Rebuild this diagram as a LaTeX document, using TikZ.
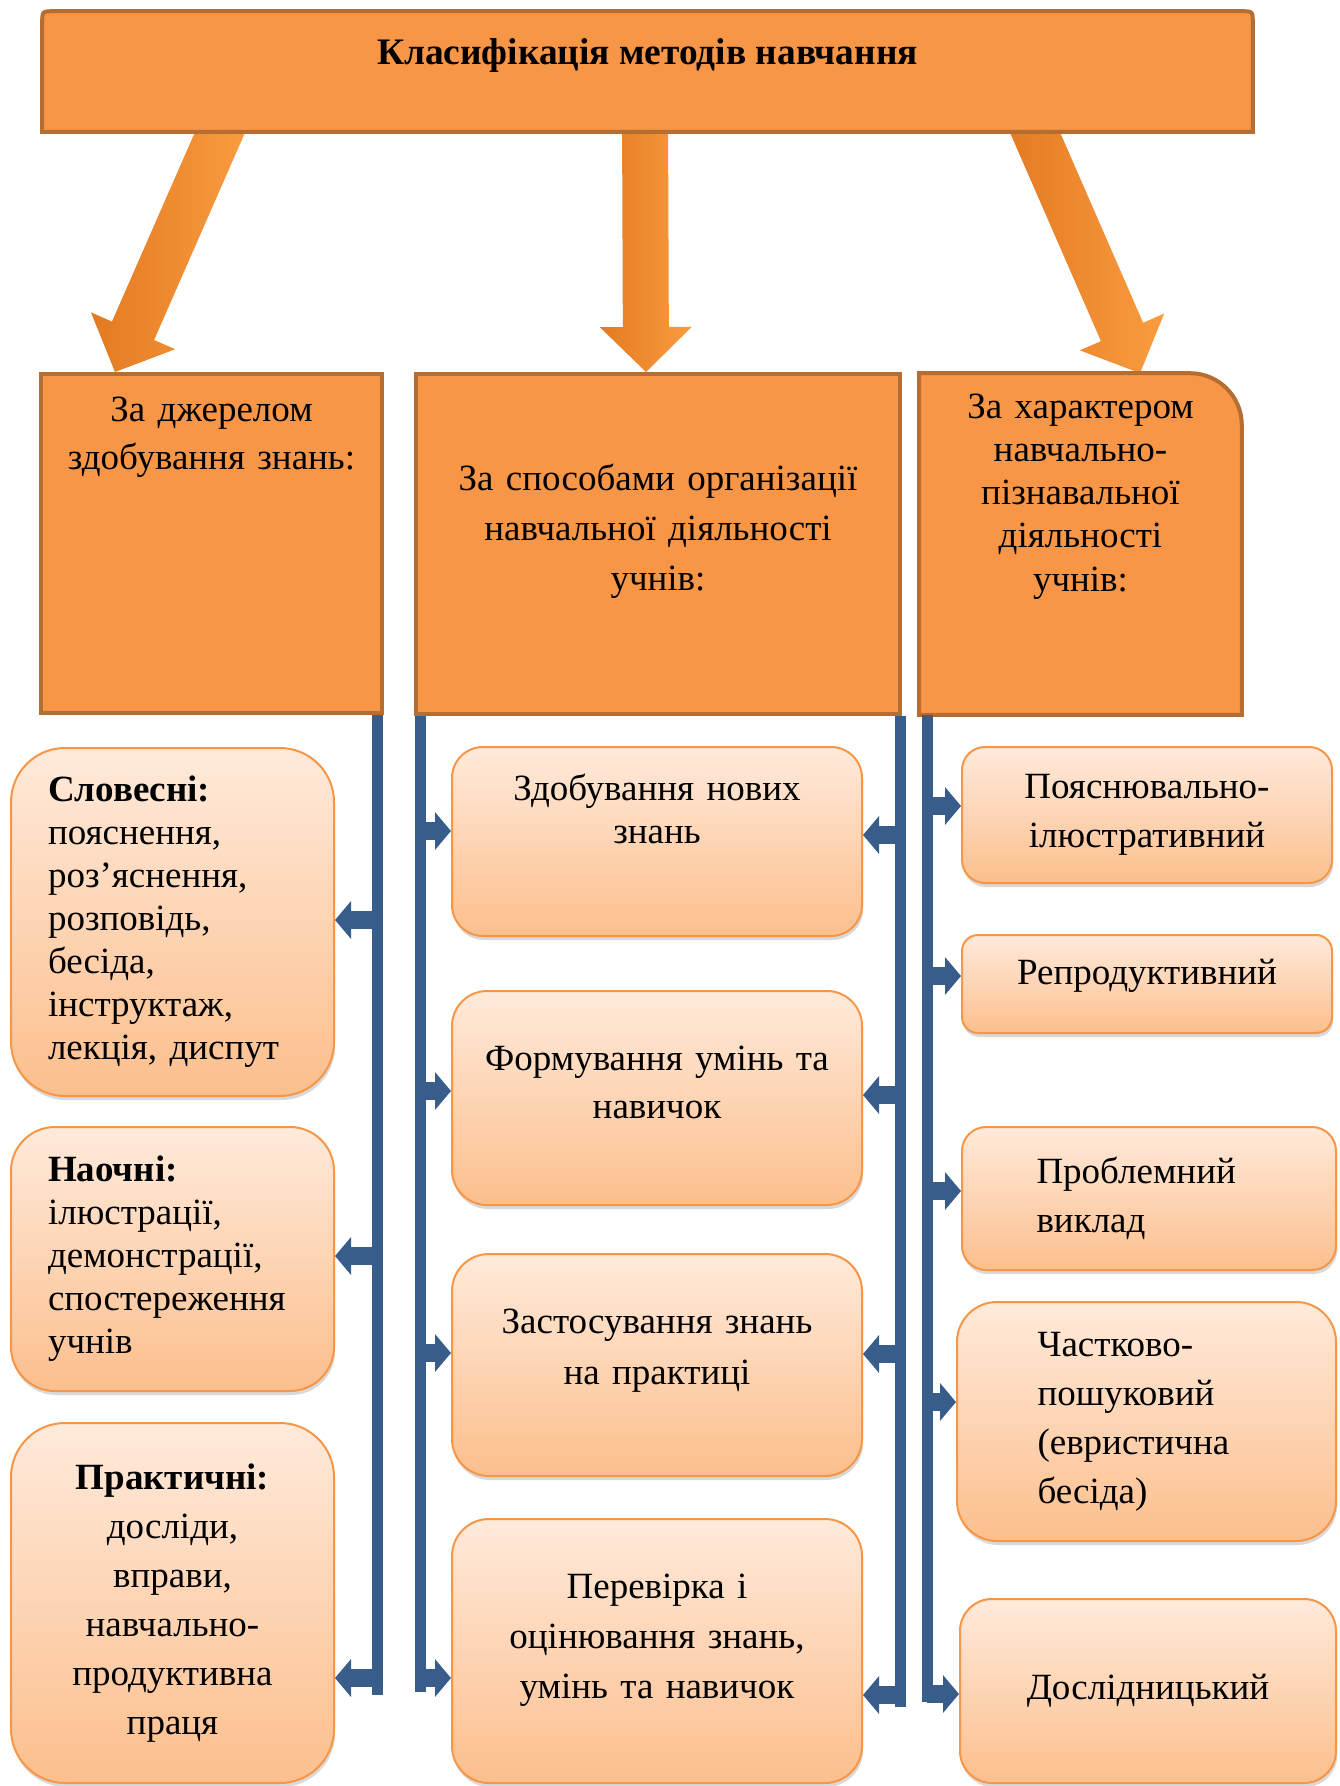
\documentclass[tikz,border=0pt]{standalone}
\usepackage{fontspec}
\setmainfont{Liberation Serif}
\usetikzlibrary{arrows.meta, calc, shadows, backgrounds}

\definecolor{headfill}{HTML}{F79646}
\definecolor{headline}{HTML}{B66D31}
\definecolor{boxtop}{HTML}{FFEADB}
\definecolor{boxbottom}{HTML}{FCBF8D}
\definecolor{boxline}{HTML}{F79646}
\definecolor{arrowdark}{HTML}{E37A22}
\definecolor{arrowlight}{HTML}{FA9C3F}
\definecolor{barblue}{HTML}{385D8A}

% block arrow: #1 name, #2 start, #3 tip
\newcommand{\bigarrow}[3]{%
  \coordinate (#1s) at (#2);
  \coordinate (#1t) at (#3);
  \coordinate (#1h) at ($(#1t)!22.5pt!(#1s)$);
  \shade[bigarrowfill]
    ($(#1s)!11.5pt!90:(#1t)$) -- ($(#1h)!11.5pt!90:(#1t)$) -- ($(#1h)!23pt!90:(#1t)$)
    -- (#1t) -- ($(#1h)!23pt!-90:(#1t)$) -- ($(#1h)!11.5pt!-90:(#1t)$)
    -- ($(#1s)!11.5pt!-90:(#1t)$) -- cycle;
}

\tikzset{
  every picture/.style={line width=0.8pt},
  every node/.style={font=\fontsize{18.5}{24.5}\selectfont, inner sep=0pt},
  tight/.style={font=\fontsize{18.5}{21.5}\selectfont},
  headshape/.style={draw=headline, fill=headfill, line width=2pt},
  headbox/.style={headshape, align=center},
  methodbox/.style={draw=boxline, line width=1pt, top color=boxtop, bottom color=boxbottom,
    rounded corners=#1, drop shadow={shadow xshift=0.6pt, shadow yshift=-2pt, opacity=0.3}},
  methodbox/.default=15pt,
  trunk/.style={draw=barblue, line width=5.5pt},
  branch/.style={draw=barblue, line width=9pt, -{Triangle[width=18.5pt, length=8pt]}},
  bigarrowfill/.style={left color=arrowdark, right color=arrowlight}
}

\begin{document}
\begin{tikzpicture}[x=0.5pt, y=-0.5pt]
  \useasboundingbox (0,0) rectangle (1339,1786);

  % headings
  \node[font=\fontsize{18.7}{22}\selectfont\bfseries, minimum width=604.5pt,
        text height=26.5pt, text depth=33pt] (title) at (647.5,71.5) {Класифікація методів навчання};
  \node[headbox, font=\fontsize{18.5}{24}\selectfont, text width=150pt, minimum width=170.5pt,
        text height=24pt, text depth=145.5pt] (src) at (211.5,543.5) {За джерелом\\ здобування знань:};
  \node[headbox, font=\fontsize{18.5}{25}\selectfont, text width=225pt, minimum width=242pt,
        text height=58pt, text depth=112pt] (org) at (658,544)
        {За способами організації\\ навчальної діяльності\\ учнів:};
  \node[tight, align=center, text width=140pt, minimum width=160.5pt,
        text height=22.5pt, text depth=147.5pt] (kind) at (1080.5,544)
        {За характером\\ навчально-\\ пізнавальної\\ діяльності\\ учнів:};

  \begin{scope}[on background layer]
    \bigarrow{la}{$(title.south -| 229,0)+(0,-20)$}{src.north -| 115,0}
    \bigarrow{ma}{$(title.south -| 645,0)+(0,-20)$}{org.north -| 646,0}
    \bigarrow{ra}{$(title.south -| 1026,0)+(0,-20)$}{kind.north -| 1140,0}

    \filldraw[headshape] (title.south west) -- ([yshift=-6pt]title.north west)
      .. controls (title.north west) .. ([xshift=6pt]title.north west)
      -- ([xshift=-6pt]title.north east) .. controls (title.north east) .. ([yshift=-6pt]title.north east)
      -- (title.south east) -- cycle;
    \filldraw[headshape] (kind.south west) -- (kind.north west) -- ([xshift=-26pt]kind.north east)
      .. controls ([xshift=-11.6pt]kind.north east) and ([yshift=-11.6pt]kind.north east)
      .. ([yshift=-26pt]kind.north east)
      -- (kind.south east) -- cycle;
  \end{scope}

  % by source
  \node[methodbox=27pt, tight, align=left, text width=124.5pt, minimum width=161.5pt,
        minimum height=174pt] (verbal) at (172.5,922)
        {\textbf{Словесні:}\\ пояснення,\\ роз’яснення,\\ розповідь,\\ бесіда,\\ інструктаж,\\ лекція, диспут};
  \node[methodbox=22pt, tight, align=left, text width=124.5pt, minimum width=161.5pt,
        minimum height=132pt] (visual) at (172.5,1259)
        {\textbf{Наочні:}\\ ілюстрації,\\ демонстрації,\\ спостереження\\ учнів};
  \node[methodbox=27pt, align=center, text width=140pt, minimum width=161.5pt,
        minimum height=180pt] (practical) at (172.5,1603)
        {\textbf{Практичні:}\\ досліди,\\ вправи,\\ навчально-\\ продуктивна\\ праця};

  % by organisation
  \node[methodbox=15.5pt, tight, align=center, text width=185pt, minimum width=205pt,
        text height=26.5pt, text depth=68pt] (newknow) at (657,841.5) {Здобування нових\\ знань};
  \node[methodbox=17.5pt, font=\fontsize{18.5}{24}\selectfont, align=center, text width=185pt,
        minimum width=205pt, text height=39.5pt, text depth=67.5pt] (skills) at (657,1098)
        {Формування умінь та\\ навичок};
  \node[methodbox=18.5pt, font=\fontsize{18.5}{25.5}\selectfont, align=center, text width=185pt,
        minimum width=205pt, text height=39.5pt, text depth=71.5pt] (apply) at (657,1365)
        {Застосування знань\\ на практиці};
  \node[methodbox=18.5pt, font=\fontsize{18.5}{25}\selectfont, align=center, text width=185pt,
        minimum width=205pt, text height=39.5pt, text depth=92.5pt] (check) at (657,1651)
        {Перевірка і\\ оцінювання знань,\\ умінь та навичок};

  % by character
  \node[methodbox=11.5pt, align=center, text width=170pt, minimum width=185pt,
        minimum height=68pt] (explain) at (1147,815) {Пояснювально-\\ ілюстративний};
  \node[methodbox=8pt, align=center, text width=170pt, minimum width=185pt,
        text height=24.5pt, text depth=24.5pt] (reprod) at (1147,984) {Репродуктивний};
  \node[methodbox=12pt, align=left, text width=112.5pt, minimum width=187pt,
        minimum height=71.5pt] (problem) at (1149,1198.5) {Проблемний\\ виклад};
  \node[methodbox=20pt, align=left, text width=109pt, minimum width=189.5pt,
        minimum height=119.5pt] (partial) at (1146.5,1421.5)
        {Частково-\\ пошуковий\\ (евристична\\ бесіда)};
  \node[methodbox=16pt, align=center, text width=170pt, minimum width=188pt,
        minimum height=92pt] (research) at (1148,1691) {Дослідницький};

  % trunks
  \coordinate (end1) at (377,1695);
  \coordinate (end2) at (420,1692);
  \coordinate (end3) at (900,1707);
  \coordinate (end4) at (927,1702);
  \draw[trunk] (src.south -| end1) -- (end1);
  \draw[trunk] (org.south -| end2) -- (end2);
  \draw[trunk] (org.south -| end3) -- (end3);
  \draw[trunk] (kind.south -| end4) -- (end4);

  % branches
  \draw[branch] (end1 |- 0,920) -- (verbal.east |- 0,920);
  \draw[branch] (end1 |- 0,1256) -- (visual.east |- 0,1256);
  \draw[branch] (end1 |- 0,1678) -- (practical.east |- 0,1678);

  \draw[branch] (end2 |- 0,831) -- (newknow.west |- 0,831);
  \draw[branch] (end2 |- 0,1091) -- (skills.west |- 0,1091);
  \draw[branch] (end2 |- 0,1353) -- (apply.west |- 0,1353);
  \draw[branch] (end2 |- 0,1678) -- (check.west |- 0,1678);

  \draw[branch] (end3 |- 0,835) -- (newknow.east |- 0,835);
  \draw[branch] (end3 |- 0,1095) -- (skills.east |- 0,1095);
  \draw[branch] (end3 |- 0,1354) -- (apply.east |- 0,1354);
  \draw[branch] (end3 |- 0,1695) -- (check.east |- 0,1695);

  \draw[branch] (end4 |- 0,806) -- (explain.west |- 0,806);
  \draw[branch] (end4 |- 0,976) -- (reprod.west |- 0,976);
  \draw[branch] (end4 |- 0,1191) -- (problem.west |- 0,1191);
  \draw[branch] (end4 |- 0,1402) -- (partial.west |- 0,1402);
  \draw[branch] (end4 |- 0,1694) -- (research.west |- 0,1694);
\end{tikzpicture}
\end{document}
